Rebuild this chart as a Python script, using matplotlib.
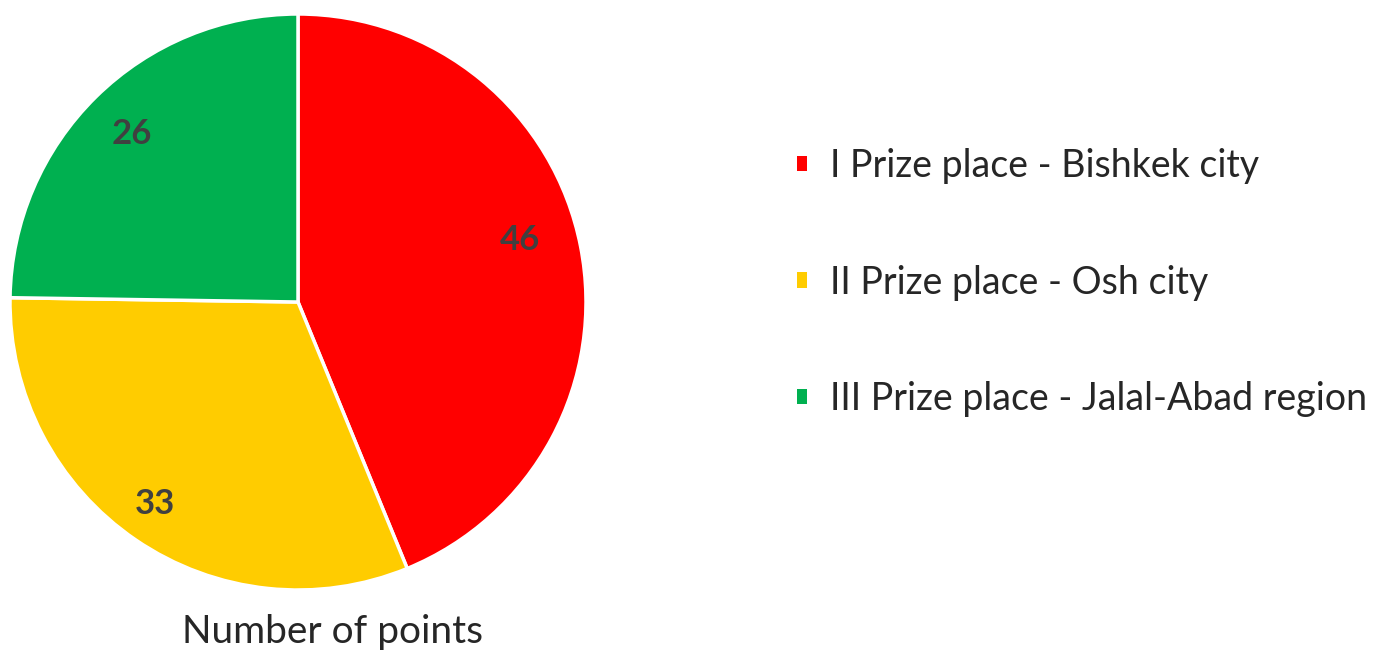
import matplotlib
matplotlib.use("Agg")
import numpy as np
import matplotlib.pyplot as plt
from matplotlib.patches import Patch

plt.rcParams['font.family'] = ['Lato', 'DejaVu Sans']

labels = ["I Prize place - Bishkek city", "II Prize place - Osh city", "III Prize place - Jalal-Abad region"]
values = [46, 33, 26]
colors = ["#FF0000", "#FFCC00", "#00B050"]
title = "Number of points"

fig = plt.figure(figsize=(13.9, 6.52), dpi=100)
ax = fig.add_axes([10/1390, 62/652, 576/1390, 576/652])
wedges, texts, autotexts = ax.pie(values, colors=colors, startangle=90, counterclock=False,
                                  autopct=lambda p: f"{p*sum(values)/100:.0f}", pctdistance=0.82,
                                  wedgeprops=dict(edgecolor="white", linewidth=2.5),
                                  textprops=dict(color="#404040", fontsize=25, fontweight="bold"))
# nudge labels slightly as in the reference
w = wedges[0]
ang = np.deg2rad((w.theta1 + w.theta2) / 2 + 4.5)
autotexts[0].set_position((0.8 * np.cos(ang), 0.8 * np.sin(ang)))
w = wedges[1]
ang = np.deg2rad((w.theta1 + w.theta2) / 2 - 1.0)
autotexts[1].set_position((0.86 * np.cos(ang), 0.86 * np.sin(ang)))

ax.set_xlim(-1, 1)
ax.set_ylim(-1, 1)
ax.set_aspect("equal")

fig.text(333/1390, 1 - 632/652, title, ha="center", va="center", fontsize=28, color="#262626")

handles = [Patch(facecolor=c, edgecolor="none") for c in colors]
fig.legend(handles, labels, loc="upper left", bbox_to_anchor=(797/1390, 1 - 148/652),
           frameon=False, fontsize=27, labelcolor="#262626", handlelength=0.26, handleheight=0.26,
           handletextpad=0.62, labelspacing=2.15, borderpad=0, borderaxespad=0)

fig.savefig("out.png", dpi=100)
